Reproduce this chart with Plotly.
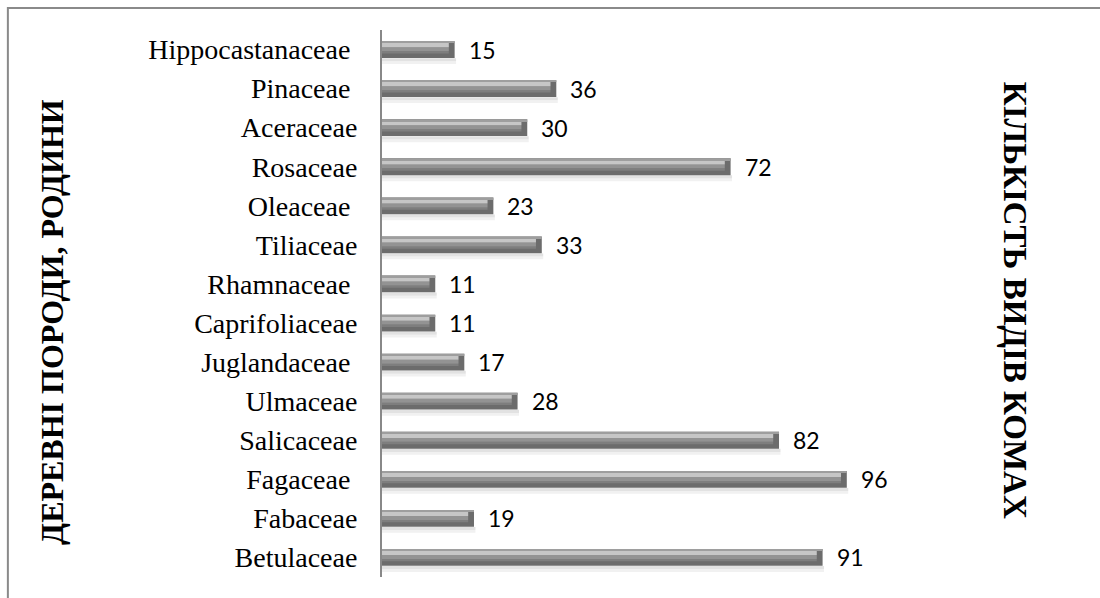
import plotly.graph_objects as go

# Tree families (bottom to top) and insect species counts
families = ["Betulaceae", "Fabaceae", "Fagaceae\u00a0", "Salicaceae", "Ulmaceae",
            "Juglandaceae\u00a0", "Caprifoliaceae", "Rhamnaceae\u00a0", "Tiliaceae",
            "Oleaceae\u00a0", "Rosaceae", "Aceraceae", "Pinaceae\u00a0", "Hippocastanaceae\u00a0"]
species = [91, 19, 96, 82, 28, 17, 11, 11, 33, 23, 72, 30, 36, 15]

left_title = "ДЕРЕВНІ ПОРОДИ, РОДИНИ"
right_title = "КІЛЬКІСТЬ ВИДІВ КОМАХ"

W, H = 1100, 598
XMAX = 120
plot_left, plot_top, plot_bottom = 382, 30, 577
plot_right = plot_left + 4.84 * XMAX
plot_w = plot_right - plot_left
plot_h = plot_bottom - plot_top

def px_x(p):
    return (p - plot_left) / plot_w

def px_y(p):
    return (plot_bottom - p) / plot_h

BAR_W = 0.43
bevel = 1.2

fig = go.Figure()

def layer(xs, lo, hi, color):
    # one horizontal band of the bevelled bar, between lo and hi (category units)
    fig.add_trace(go.Bar(y=families, x=xs, orientation="h",
                         width=hi - lo, offset=lo,
                         marker=dict(color=color, line=dict(width=0)),
                         hoverinfo="skip"))

inner = [v - bevel for v in species]
shadow = [v + 0.3 for v in species]

# soft drop shadow under the bars
layer(shadow, -0.37, -0.30, "#f1f1f1")
layer(shadow, -0.30, -0.22, "#e2e2e2")
# bar body and bevel bands
layer(species, -BAR_W / 2, BAR_W / 2, "#6c6c6c")
layer(inner, -0.10, -0.04, "#7e7e7e")
layer(inner, -0.04, 0.06, "#939393")
layer(inner, 0.06, 0.17, "#c6c6c6")
layer(species, 0.17, BAR_W / 2, "#9e9e9e")

annotations = []
for fam, v in zip(families, species):
    annotations.append(dict(x=v, y=fam, xref="x", yref="y", text=str(v),
                            showarrow=False, xanchor="left", yanchor="middle",
                            xshift=12, font=dict(family="Lato", size=23, color="#000000")))

annotations.append(dict(x=px_x(52), y=px_y(322), xref="paper", yref="paper",
                        text="<b>" + left_title + "</b>", textangle=-90, showarrow=False,
                        xanchor="center", yanchor="middle",
                        font=dict(family="Liberation Serif", size=32, color="#000000")))
annotations.append(dict(x=px_x(1015), y=px_y(300), xref="paper", yref="paper",
                        text="<b>" + right_title + "</b>", textangle=90, showarrow=False,
                        xanchor="center", yanchor="middle",
                        font=dict(family="Liberation Serif", size=33, color="#000000")))

fig.update_layout(
    width=W, height=H,
    margin=dict(l=plot_left, r=W - plot_right, t=plot_top, b=H - plot_bottom),
    paper_bgcolor="white", plot_bgcolor="white",
    barmode="overlay", showlegend=False,
    annotations=annotations,
    shapes=[dict(type="rect", xref="paper", yref="paper",
                 x0=px_x(8), x1=px_x(1110), y0=px_y(610), y1=px_y(8),
                 line=dict(color="#8a8a8a", width=2), layer="below")],
    xaxis=dict(range=[0, XMAX], visible=False, showgrid=False, zeroline=False),
    yaxis=dict(showline=True, linecolor="#888888", linewidth=2, ticks="",
               showgrid=False, zeroline=False, ticklabelstandoff=17,
               tickfont=dict(family="Liberation Serif", size=28, color="#000000"),
               categoryorder="array", categoryarray=families),
)

fig.write_html("out.html")
